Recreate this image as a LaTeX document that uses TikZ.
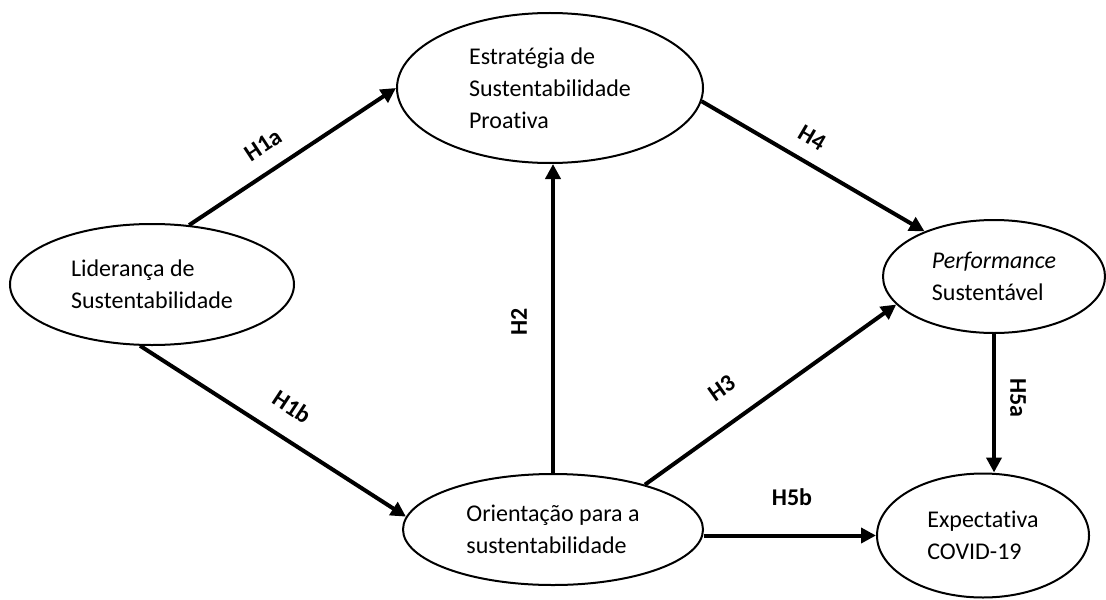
\documentclass[tikz,border=0pt]{standalone}
\usepackage{fontspec}
\setmainfont[Ligatures={NoCommon}]{Carlito}
\usetikzlibrary{shapes.geometric,arrows.meta,calc}
\begin{document}
\begin{tikzpicture}[x=0.5pt,y=-0.5pt,
  ell/.style={draw, ellipse, line width=1pt, inner sep=0pt, align=left,
    font=\fontsize{12}{16}\selectfont},
  arr/.style={line width=2pt, -{Triangle[length=7.5pt,width=7.5pt]}},
  lbl/.style={font=\bfseries\fontsize{12}{14}\selectfont, inner sep=0pt}]
\useasboundingbox[fill=white] (0,0) rectangle (1106,599);

\node[ell, minimum width=142pt, minimum height=60.5pt] (lid) at (152,284.5)
  {Liderança de\\Sustentabilidade};
\node[ell, minimum width=153pt, minimum height=75pt] (est) at (550,88)
  {Estratégia de\\Sustentabilidade\hspace*{9pt}\\Proativa};
\node[ell, minimum width=111pt, minimum height=56.5pt] (perf) at (994,276.5)
  {\textit{Performance}\\Sustentável};
\node[ell, minimum width=150pt, minimum height=55.5pt] (ori) at (553,529.5)
  {Orientação para a\\sustentabilidade};
\node[ell, minimum width=106pt, minimum height=62pt] (exp) at (983,535.5)
  {Expectativa\\COVID-19};

\draw[arr] (lid.58) -- (est.west);
\draw[arr] (lid.259) -- (ori.175.6);
\draw[arr] (ori.north) -- (ori.north |- est.south);
\draw[arr] (est.-5) -- (perf.147);
\draw[arr] (ori.26.8) -- (perf.196.4);
\draw[arr] (perf.south) -- (perf.south |- exp.north);
\draw[arr] (exp.west -| ori.east) -- (exp.west);

\node[lbl, rotate=33.3] (l1a) at (263,145) {H1a};
\node[lbl, rotate=-33.3] (l1b) at (292,407) {H1b};
\node[lbl, rotate=90] (l2) at (519,322) {H2};
\node[lbl, rotate=-30.4] (l4) at (812,138) {H4};
\node[lbl, rotate=35.2] (l3) at (722,388) {H3};
\node[lbl, rotate=-90] (l5a) at (1018,398) {H5a};
\node[lbl] (l5b) at (792,497) {H5b};
\end{tikzpicture}
\end{document}
